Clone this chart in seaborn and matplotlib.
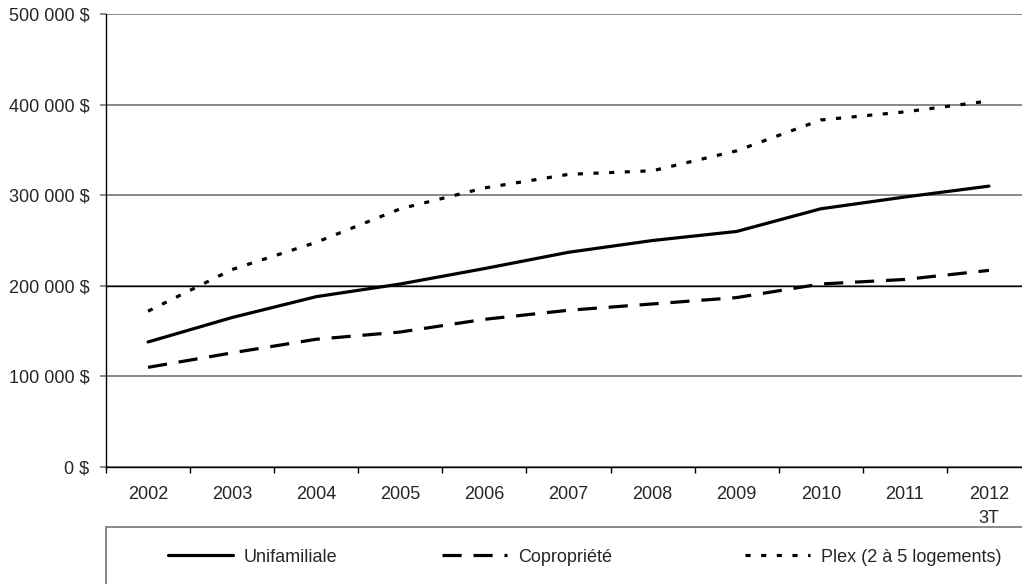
import pandas as pd
import seaborn as sns
import matplotlib.pyplot as plt
from matplotlib.patches import Rectangle
from matplotlib.ticker import FuncFormatter, MultipleLocator

# values (median price, $)
years = ['2002', '2003', '2004', '2005', '2006', '2007', '2008', '2009', '2010', '2011', '2012\n3T']
unifamiliale = [138000, 165000, 188000, 202000, 219000, 237000, 250000, 260000, 285000, 298000, 310000]
copropriete = [110000, 126000, 141000, 149000, 163000, 173000, 180000, 187000, 202000, 207000, 217000]
plex = [172000, 218000, 248000, 285000, 308000, 323000, 327000, 349000, 383000, 392000, 404000]
series_names = ['Unifamiliale', 'Copropriété', 'Plex (2 à 5 logements)']
y_ticks = [0, 100000, 200000, 300000, 400000, 500000]

line_styles = ['-', (0, (6, 3.7)), (0, (1.6, 3.3))]
legend_x = [168, 442, 745]  # pixel x of each legend entry

sns.set_style('white')
plt.rcParams['font.family'] = ['Liberation Sans', 'DejaVu Sans']
FS = 13

df = pd.DataFrame({'pos': range(len(years)), 'year': years})
for name, vals in zip(series_names, [unifamiliale, copropriete, plex]):
    df[name] = vals

W, H = 1022, 584
fig = plt.figure(figsize=(W / 100, H / 100), dpi=100)
ax = fig.add_axes([106 / W, 1 - 467 / H, (1031 - 106) / W, (467 - 14) / H])

for name, ls in zip(series_names, line_styles):
    sns.lineplot(data=df, x='pos', y=name, ax=ax, color='black', linewidth=2.3,
                 linestyle=ls, label=name, legend=False)

ax.set_xlim(-0.5, len(years) - 0.5)
ax.set_ylim(0, 500000)
ax.set_xlabel('')
ax.set_ylabel('')

# x axis: labels at centres, tick marks between categories
ax.set_xticks(range(len(years)))
ax.set_xticklabels(years, fontsize=FS, linespacing=1.5)
ax.xaxis.set_minor_locator(MultipleLocator(1, offset=0.5))
ax.tick_params(axis='x', which='major', length=0, pad=14)
ax.tick_params(axis='x', which='minor', length=4, width=1, color='black', direction='out', bottom=True)

# y axis
ax.set_yticks(y_ticks)
ax.yaxis.set_major_formatter(FuncFormatter(lambda v, p: f"{int(v):,}".replace(',', ' ') + ' $'))
ax.tick_params(axis='y', length=4, width=1.3, color='#808080', labelsize=FS, pad=8, left=True)

ax.yaxis.grid(True, color='#808080', linewidth=1.3)
ax.xaxis.grid(False)
ax.axhline(200000, color='black', linewidth=1, zorder=1.5)
ax.set_axisbelow(True)

for s in ['top', 'right']:
    ax.spines[s].set_visible(False)
for s in ['left', 'bottom']:
    ax.spines[s].set_color('black')
    ax.spines[s].set_linewidth(1)

# legend box under the plot, one entry per slot
fig.add_artist(Rectangle((106 / W, -0.05), 1.0, 0.05 + 1 - 527 / H, transform=fig.transFigure,
                         fill=False, edgecolor='#808080', linewidth=1.3))
for line, name, lx in zip(ax.lines[:3], series_names, legend_x):
    leg = fig.legend(handles=[line], labels=[name], loc='center left',
                     bbox_to_anchor=(lx / W, 1 - 557 / H), frameon=False,
                     handlelength=3.6, handletextpad=0.6,
                     borderpad=0, borderaxespad=0, fontsize=FS)

fig.savefig('out.png', dpi=100)
